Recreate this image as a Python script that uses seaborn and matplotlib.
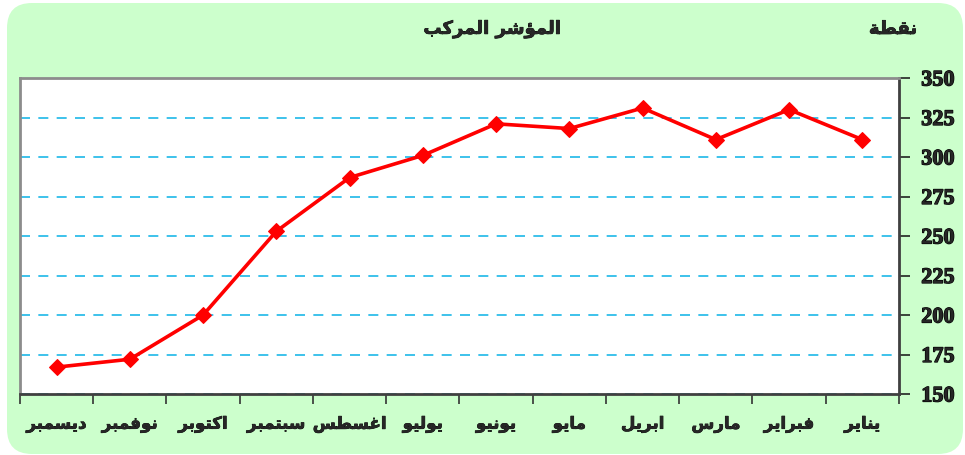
import numpy as np
import pandas as pd
import matplotlib
matplotlib.use("Agg")
import matplotlib.pyplot as plt
import matplotlib.patheffects as pe
from matplotlib.patches import FancyBboxPatch
from matplotlib.font_manager import FontProperties
import seaborn as sns

# Chart data (months run right-to-left, January first)
MONTHS = ["يناير", "فبراير", "مارس", "ابريل", "مايو", "يونيو",
          "يوليو", "اغسطس", "سبتمبر", "اكتوبر", "نوفمبر", "ديسمبر"]
INDEX_VALUES = [311, 330, 311, 331, 318, 321, 301, 287, 253, 200, 172, 167]
Y_TICKS = [150, 175, 200, 225, 250, 275, 300, 325, 350]
TITLE = "المؤشر المركب"
UNIT = "نقطة"

# matplotlib has no Arabic shaping: map letters to presentation forms
# (isolated, final, initial, medial) and reverse for right-to-left display
FORMS = {
    "ا": (0xFE8D, 0xFE8E, None, None),
    "ؤ": (0xFE85, 0xFE86, None, None),
    "ب": (0xFE8F, 0xFE90, 0xFE91, 0xFE92),
    "ة": (0xFE93, 0xFE94, None, None),
    "ت": (0xFE95, 0xFE96, 0xFE97, 0xFE98),
    "د": (0xFEA9, 0xFEAA, None, None),
    "ر": (0xFEAD, 0xFEAE, None, None),
    "س": (0xFEB1, 0xFEB2, 0xFEB3, 0xFEB4),
    "ش": (0xFEB5, 0xFEB6, 0xFEB7, 0xFEB8),
    "ط": (0xFEC1, 0xFEC2, 0xFEC3, 0xFEC4),
    "غ": (0xFECD, 0xFECE, 0xFECF, 0xFED0),
    "ف": (0xFED1, 0xFED2, 0xFED3, 0xFED4),
    "ق": (0xFED5, 0xFED6, 0xFED7, 0xFED8),
    "ك": (0xFED9, 0xFEDA, 0xFEDB, 0xFEDC),
    "ل": (0xFEDD, 0xFEDE, 0xFEDF, 0xFEE0),
    "م": (0xFEE1, 0xFEE2, 0xFEE3, 0xFEE4),
    "ن": (0xFEE5, 0xFEE6, 0xFEE7, 0xFEE8),
    "و": (0xFEED, 0xFEEE, None, None),
    "ي": (0xFEF1, 0xFEF2, 0xFEF3, 0xFEF4),
}


def shape_arabic(text):
    out = []
    for i, ch in enumerate(text):
        if ch not in FORMS:
            out.append(ch)
            continue
        prev = text[i - 1] if i > 0 else ""
        nxt = text[i + 1] if i + 1 < len(text) else ""
        join_prev = prev in FORMS and FORMS[prev][2] is not None
        join_next = FORMS[ch][2] is not None and nxt in FORMS
        iso, fin, ini, med = FORMS[ch]
        if join_prev and join_next:
            code = med
        elif join_prev:
            code = fin
        elif join_next:
            code = ini
        else:
            code = iso
        out.append(chr(code))
    return "".join(reversed(out))


ARABIC_FONT = ["DejaVu Sans"]

sns.set_style("white")
plt.rcParams["font.family"] = ARABIC_FONT

arabic_fp = FontProperties(family="DejaVu Sans", weight="bold", size=12)
title_fp = FontProperties(family="DejaVu Sans", weight="bold", size=13)
num_fp = FontProperties(family="Liberation Serif", weight="bold", size=16)
heavy = [pe.withStroke(linewidth=0.9, foreground="black")]

df = pd.DataFrame({"month": [shape_arabic(m) for m in MONTHS],
                   "value": INDEX_VALUES})

fig = plt.figure(figsize=(9.65, 4.56), dpi=100, facecolor="white")

# light green rounded panel behind everything
panel = FancyBboxPatch((0.07, 0.01), 9.56, 4.51,
                       boxstyle="round,pad=0,rounding_size=0.25",
                       transform=fig.dpi_scale_trans,
                       facecolor="#CCFFCC", edgecolor="none", zorder=-10)
fig.add_artist(panel)

ax = fig.add_axes([20 / 965, 1 - 395 / 456, 879 / 965, 316 / 456])
ax.set_facecolor("white")

sns.lineplot(data=df, x="month", y="value", sort=False, ax=ax,
             color="#FF0000", linewidth=2.6, marker="D", markersize=8,
             markeredgecolor="#FF0000", zorder=5)

ax.set_xlim(len(MONTHS) - 0.5, -0.5)
ax.set_ylim(Y_TICKS[0], Y_TICKS[-1])
ax.set_yticks(Y_TICKS)
ax.yaxis.tick_right()
ax.set_xlabel("")
ax.set_ylabel("")

# tick marks between categories, labels centred on categories
ax.set_xticks(np.arange(-0.5, len(MONTHS), 1.0), minor=True)
ax.tick_params(axis="x", which="major", length=0, pad=15)
ax.tick_params(axis="x", which="minor", length=7, width=1.2,
               color="#333333", direction="out", bottom=True)
ax.tick_params(axis="y", which="major", length=8, width=1.2,
               color="#222222", direction="out", right=True, left=False, pad=8)

for lbl in ax.get_xticklabels():
    lbl.set_fontproperties(arabic_fp)
    lbl.set_path_effects([pe.withStroke(linewidth=0.5, foreground="black")])
for lbl in ax.get_yticklabels():
    lbl.set_fontproperties(num_fp)
    lbl.set_path_effects(heavy)

ax.yaxis.grid(True, linestyle=(0, (6, 5)), color="#1CB8E8", linewidth=1.2)
ax.xaxis.grid(False)

for side, col in [("left", "#8C8C8C"), ("top", "#8C8C8C"),
                  ("right", "#404040"), ("bottom", "#404040")]:
    ax.spines[side].set_visible(True)
    ax.spines[side].set_color(col)
    ax.spines[side].set_linewidth(2)

for x, txt in [(492, TITLE), (893, UNIT)]:
    t = fig.text(x / 965, 1 - 30 / 456, shape_arabic(txt), ha="center",
                 va="center", fontproperties=title_fp)
    t.set_path_effects([pe.withStroke(linewidth=0.5, foreground="black")])

fig.savefig("out.png", dpi=100, facecolor="white")
